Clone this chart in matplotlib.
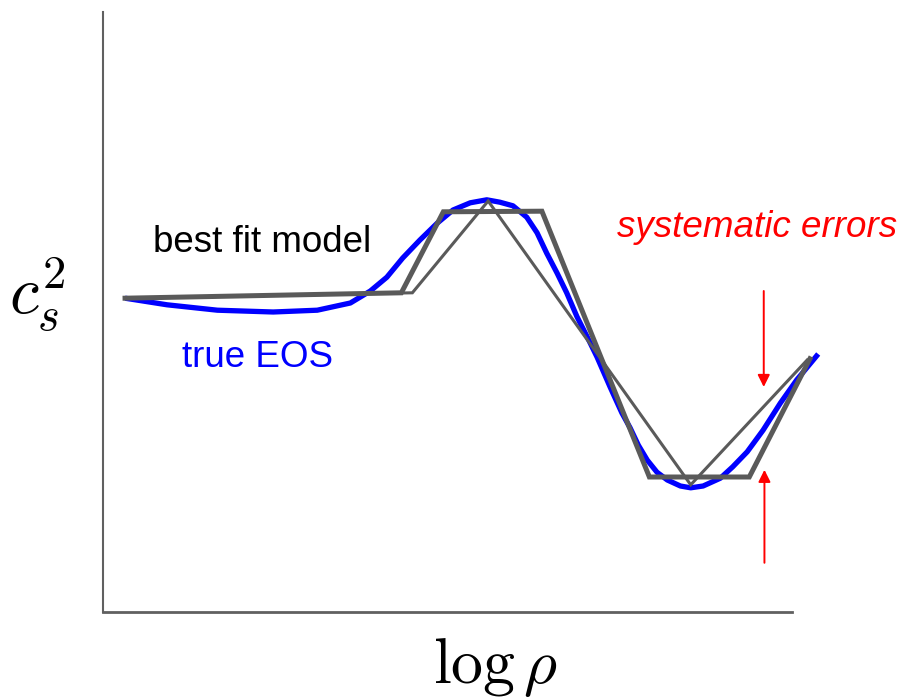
import numpy as np
import matplotlib
matplotlib.use('Agg')
import matplotlib.pyplot as plt

plt.rcParams['font.family'] = ['Liberation Sans', 'DejaVu Sans']
plt.rcParams['mathtext.fontset'] = 'cm'

# true equation of state (smooth curve), arbitrary units
true_x = np.array([0.32, 0.93, 1.66, 2.47, 3.11, 3.59, 3.88, 4.12, 4.35, 4.60,
                   4.85, 5.08, 5.33, 5.57, 5.76, 5.95, 6.15, 6.30, 6.44, 6.59,
                   6.73, 6.88, 7.03, 7.17, 7.36, 7.53, 7.65, 7.77, 7.90, 8.04,
                   8.19, 8.38, 8.53, 8.71, 8.96, 9.14, 9.35, 9.58, 9.83, 10.07,
                   10.38])
true_y = np.array([5.23, 5.12, 5.03, 5.00, 5.03, 5.15, 5.35, 5.58, 5.90, 6.20,
                   6.48, 6.70, 6.82, 6.87, 6.83, 6.77, 6.58, 6.32, 5.98, 5.65,
                   5.32, 4.92, 4.58, 4.25, 3.75, 3.32, 3.07, 2.78, 2.53, 2.33,
                   2.20, 2.10, 2.07, 2.10, 2.23, 2.42, 2.67, 3.03, 3.48, 3.87,
                   4.30])

# piecewise-linear fits
fit_thick_x = [0.32, 4.33, 4.94, 6.37, 7.93, 9.38, 10.26]
fit_thick_y = [5.23, 5.32, 6.67, 6.68, 2.25, 2.25, 4.22]
fit_thin_x = [0.32, 4.49, 5.59, 8.53, 10.22]
fit_thin_y = [5.23, 5.32, 6.85, 2.12, 4.20]

# error bar arrows: (x, tail y, head y)
arrows = [(9.59, 5.35, 3.75), (9.60, 0.82, 2.37)]

grey = '#5a5a5a'

fig = plt.figure(figsize=(9.04, 6.97), dpi=100)
ax = fig.add_axes([103/904, 1-612/697, 689/904, 600/697])

ax.plot(true_x, true_y, color=(0, 0, 1), lw=3.8, clip_on=False,
        solid_joinstyle='round', solid_capstyle='butt', zorder=2)
ax.plot(fit_thick_x, fit_thick_y, color=grey, lw=3.6, clip_on=False,
        solid_joinstyle='miter', zorder=3)
ax.plot(fit_thin_x, fit_thin_y, color=grey, lw=2.2, clip_on=False,
        solid_joinstyle='miter', zorder=4)

for xa, y0, y1 in arrows:
    ax.annotate('', xy=(xa, y1), xytext=(xa, y0),
                arrowprops=dict(arrowstyle='-|>', color='red', lw=1.4,
                                mutation_scale=18, shrinkA=0, shrinkB=0))

ax.text(0.72, 6.00, 'best fit model', fontsize=26.5, color='black',
        ha='left', va='baseline')
ax.text(1.15, 4.08, 'true EOS', fontsize=26.5, color=(0, 0, 1),
        ha='left', va='baseline')
ax.text(7.46, 6.25, 'systematic errors', fontsize=26.5, color='red',
        style='italic', ha='left', va='baseline')

ax.set_xlim(0, 10)
ax.set_ylim(0, 10)
ax.set_xticks([])
ax.set_yticks([])
for side in ['top', 'right']:
    ax.spines[side].set_visible(False)
ax.spines['left'].set_color('#606060')
ax.spines['left'].set_linewidth(1.5)
ax.spines['bottom'].set_color('#606060')
ax.spines['bottom'].set_linewidth(2)

ax.set_ylabel(r'$c_s^2$', fontsize=48, rotation=0, va='center', ha='center')
ax.yaxis.set_label_coords(-0.096, 0.527)
ax.set_xlabel(r'$\log\rho$', fontsize=46, va='center', ha='center')
ax.xaxis.set_label_coords(0.569, -0.092)

plt.savefig('out.png', dpi=100)
